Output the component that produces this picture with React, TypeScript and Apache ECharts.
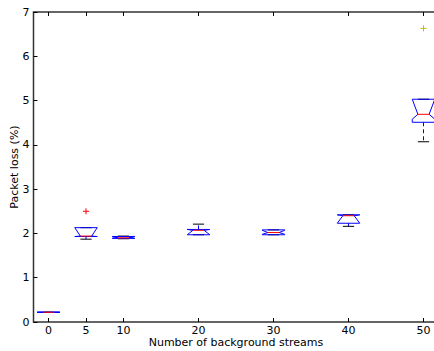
import React, { useEffect, useRef } from "react";
import * as echarts from "echarts";

// Box positions (number of background streams)
const positions = [0, 5, 10, 20, 30, 40, 50];
// Box statistics (packet loss %)
const q1 = [0.22, 1.93, 1.89, 1.97, 1.97, 2.23, 4.51];
const notchLo = [0.22, 1.93, 1.89, 1.97, 1.98, 2.23, 4.58];
const median = [0.22, 1.94, 1.9, 2.07, 2.02, 2.4, 4.69];
const notchHi = [0.22, 2.13, 1.93, 2.09, 2.07, 2.42, 5.03];
const q3 = [0.22, 2.13, 1.93, 2.09, 2.08, 2.42, 5.03];
const whiskerLo = [0.22, 1.87, 1.88, 1.97, 1.97, 2.16, 4.07];
const whiskerHi = [0.22, 2.13, 1.94, 2.21, 2.08, 2.42, 5.03];
// Outliers
const outlierX = [5, 50];
const outlierY = [2.5, 6.63];
const outlierColors = ["#ff0000", "#bfbf00"];
// Ticks
const xTicks = [0, 5, 10, 20, 30, 40, 50];

const FONT = "DejaVu Sans";

export default function App() {
  const ref = useRef<HTMLDivElement>(null);
  useEffect(() => {
    if (!ref.current) return;
    const chart = echarts.init(ref.current, undefined, { renderer: "svg" });
    const halfW = 1.5;
    const capW = 0.75;
    const boxData = positions.map((p, i) => [
      p, q1[i], notchLo[i], median[i], notchHi[i], q3[i], whiskerLo[i], whiskerHi[i],
    ]);
    const flierData = outlierX.map((x, i) => [x, outlierY[i], i]);
    const tickStyle = { inside: true, length: 4, lineStyle: { color: "#000", width: 1 } };
    chart.setOption({
      animation: false,
      backgroundColor: "#fff",
      grid: {
        left: 33.5,
        top: 12,
        width: 405,
        height: 310,
        show: true,
        borderColor: "#333",
        borderWidth: 1.5,
        backgroundColor: "transparent",
        containLabel: false,
        outerBoundsMode: "none",
      },
      xAxis: [
        {
          type: "value",
          min: -2,
          max: 52,
          position: "bottom",
          axisLine: { show: false, onZero: false },
          axisTick: { ...tickStyle, customValues: xTicks },
          axisLabel: {
            customValues: xTicks,
            color: "#000",
            fontFamily: FONT,
            fontSize: 11,
            lineHeight: 11,
            margin: 3,
          },
          splitLine: { show: false },
          name: "Number of background streams",
          nameLocation: "middle",
          nameGap: 15,
          nameMoveOverlap: false,
          nameTextStyle: { color: "#000", fontFamily: FONT, fontSize: 11, lineHeight: 11 },
        },
        {
          type: "value",
          min: -2,
          max: 52,
          position: "top",
          axisLine: { show: false, onZero: false },
          axisTick: { ...tickStyle, customValues: xTicks },
          axisLabel: { show: false },
          splitLine: { show: false },
        },
      ],
      yAxis: {
        type: "value",
        min: 0,
        max: 7,
        interval: 1,
        position: "left",
        axisLine: { show: false, onZero: false },
        axisTick: tickStyle,
        axisLabel: { color: "#000", fontFamily: FONT, fontSize: 11, margin: 4 },
        splitLine: { show: false },
        name: "Packet loss (%)",
        nameLocation: "middle",
        nameGap: 14,
        nameMoveOverlap: false,
        nameTextStyle: { color: "#000", fontFamily: FONT, fontSize: 11 },
      },
      series: [
        {
          type: "custom",
          xAxisIndex: 0,
          data: boxData,
          encode: { x: 0, y: [1, 2, 3, 4, 5, 6, 7] },
          clip: false,
          renderItem: (params: any, api: any) => {
            const x = api.value(0);
            const v = (k: number) => api.value(k);
            const P = (dx: number, y: number) => api.coord([x + dx, y]);
            const [xl] = P(-halfW, 0);
            const [xr] = P(halfW, 0);
            const [cl] = P(-capW, 0);
            const [cr] = P(capW, 0);
            const [xc] = P(0, 0);
            const Y = (y: number) => api.coord([x, y])[1];
            const yq1 = Y(v(1)), ynl = Y(v(2)), ym = Y(v(3)), ynh = Y(v(4)), yq3 = Y(v(5));
            const ywl = Y(v(6)), ywh = Y(v(7));
            const blue = "#0000ff";
            return {
              type: "group",
              children: [
                {
                  type: "line",
                  shape: { x1: xc, y1: yq1, x2: xc, y2: ywl },
                  style: { stroke: blue, lineWidth: 1, lineDash: [4, 3] },
                },
                {
                  type: "line",
                  shape: { x1: xc, y1: yq3, x2: xc, y2: ywh },
                  style: { stroke: blue, lineWidth: 1, lineDash: [4, 3] },
                },
                {
                  type: "line",
                  shape: { x1: cl, y1: ywl, x2: cr, y2: ywl },
                  style: { stroke: "#000", lineWidth: 1 },
                },
                {
                  type: "line",
                  shape: { x1: cl, y1: ywh, x2: cr, y2: ywh },
                  style: { stroke: "#000", lineWidth: 1 },
                },
                {
                  type: "polygon",
                  shape: {
                    points: [
                      [xl, yq1], [xr, yq1], [xr, ynl], [cr, ym], [xr, ynh], [xr, yq3],
                      [xl, yq3], [xl, ynh], [cl, ym], [xl, ynl],
                    ],
                  },
                  style: { fill: "none", stroke: blue, lineWidth: 1 },
                },
                {
                  type: "line",
                  shape: { x1: cl, y1: ym, x2: cr, y2: ym },
                  style: { stroke: "#ff0000", lineWidth: 1 },
                },
              ],
            };
          },
        },
        {
          type: "custom",
          xAxisIndex: 0,
          data: flierData,
          encode: { x: 0, y: 1 },
          clip: false,
          renderItem: (params: any, api: any) => {
            const [px, py] = api.coord([api.value(0), api.value(1)]);
            const c = outlierColors[api.value(2)];
            const s = 3;
            return {
              type: "group",
              children: [
                { type: "line", shape: { x1: px - s, y1: py, x2: px + s, y2: py }, style: { stroke: c, lineWidth: 1 } },
                { type: "line", shape: { x1: px, y1: py - s, x2: px, y2: py + s }, style: { stroke: c, lineWidth: 1 } },
              ],
            };
          },
        },
      ],
    });
    return () => chart.dispose();
  }, []);
  return (
    <div
      ref={ref}
      style={{ position: "fixed", left: 0, top: 0, width: 434, height: 351, background: "#fff" }}
    />
  );
}
